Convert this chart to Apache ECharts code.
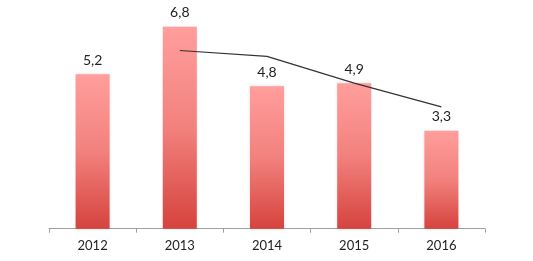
<!DOCTYPE html>
<html>
<head>
<meta charset="utf-8">
<script src="https://cdn.jsdelivr.net/npm/echarts@6/dist/echarts.min.js"></script>
<style>
html,body{margin:0;padding:0;background:#fff;}
#chart{width:533px;height:261px;}
</style>
</head>
<body>
<div id="chart"></div>
<script>
var categories = ['2012', '2013', '2014', '2015', '2016'];
var barValues = [5.2, 6.8, 4.8, 4.9, 3.3];
var lineValues = [null, 6.0, 5.8, 4.9, 4.1];

var chart = echarts.init(document.getElementById('chart'));
chart.setOption({
  animation: false,
  backgroundColor: '#fff',
  grid: { left: 49, right: 48, top: 20.8, bottom: 32.3 },
  xAxis: {
    type: 'category',
    data: categories,
    axisLine: { lineStyle: { color: '#a0a0a0', width: 1 } },
    axisTick: { show: true, length: 4, lineStyle: { color: '#a0a0a0' } },
    axisLabel: { color: '#222', fontFamily: 'Lato', fontSize: 13, margin: 11 }
  },
  yAxis: {
    type: 'value',
    min: 0, max: 7,
    show: false,
    splitLine: { show: false }
  },
  series: [
    {
      type: 'bar',
      data: barValues,
      barWidth: 34,
      itemStyle: {
        color: {
          type: 'linear', x: 0, y: 0, x2: 0, y2: 1,
          colorStops: [
            { offset: 0, color: '#ff9e9c' },
            { offset: 0.5, color: '#f2817d' },
            { offset: 1, color: '#d6433d' }
          ]
        },
        shadowColor: 'rgba(0,0,0,0.15)',
        shadowBlur: 3
      },
      label: {
        show: true,
        position: 'top',
        distance: 7,
        color: '#222',
        fontFamily: 'Lato',
        fontSize: 14,
        formatter: function (p) { return String(p.value).replace('.', ','); }
      }
    },
    {
      type: 'line',
      data: lineValues,
      symbol: 'none',
      lineStyle: { color: '#333', width: 1.2 },
      z: 5
    }
  ]
});
</script>
</body>
</html>
